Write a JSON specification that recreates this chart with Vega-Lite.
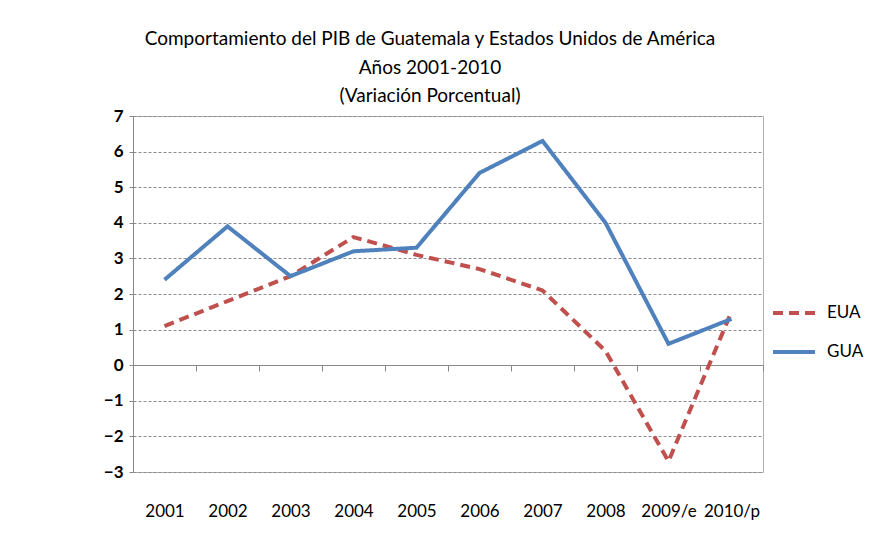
{
  "$schema": "https://vega.github.io/schema/vega-lite/v6.json",
  "autosize": {"type": "none"},
  "width": 630,
  "height": 356,
  "padding": {"left": 133, "top": 116, "right": 114, "bottom": 72},
  "background": "white",
  "title": {
    "text": ["Comportamiento del PIB de Guatemala y Estados Unidos de América", "Años 2001-2010", "(Variación Porcentual)"],
    "anchor": "middle",
    "dx": -18,
    "offset": 1,
    "font": "Lato",
    "fontSize": 19,
    "fontWeight": "normal",
    "lineHeight": 28.5,
    "color": "#000000"
  },
  "data": {
    "values": [
      {"year": "2001", "serie": "EUA", "valor": 1.1},
      {"year": "2002", "serie": "EUA", "valor": 1.8},
      {"year": "2003", "serie": "EUA", "valor": 2.5},
      {"year": "2004", "serie": "EUA", "valor": 3.6},
      {"year": "2005", "serie": "EUA", "valor": 3.1},
      {"year": "2006", "serie": "EUA", "valor": 2.7},
      {"year": "2007", "serie": "EUA", "valor": 2.1},
      {"year": "2008", "serie": "EUA", "valor": 0.4},
      {"year": "2009/e", "serie": "EUA", "valor": -2.7},
      {"year": "2010/p", "serie": "EUA", "valor": 1.5},
      {"year": "2001", "serie": "GUA", "valor": 2.4},
      {"year": "2002", "serie": "GUA", "valor": 3.9},
      {"year": "2003", "serie": "GUA", "valor": 2.5},
      {"year": "2004", "serie": "GUA", "valor": 3.2},
      {"year": "2005", "serie": "GUA", "valor": 3.3},
      {"year": "2006", "serie": "GUA", "valor": 5.4},
      {"year": "2007", "serie": "GUA", "valor": 6.3},
      {"year": "2008", "serie": "GUA", "valor": 4.0},
      {"year": "2009/e", "serie": "GUA", "valor": 0.6},
      {"year": "2010/p", "serie": "GUA", "valor": 1.3}
    ]
  },
  "mark": {"type": "line", "strokeWidth": 4},
  "encoding": {
    "x": {
      "field": "year",
      "type": "ordinal",
      "sort": null,
      "scale": {"paddingInner": 0, "paddingOuter": 0},
      "axis": {
        "title": null,
        "labelAngle": 0,
        "offset": -107,
        "labelPadding": 132,
        "labelFont": "Lato",
        "labelFontSize": 17,
        "labelColor": "#000000",
        "domain": true,
        "domainColor": "#888888",
        "domainWidth": 1,
        "ticks": true,
        "tickBand": "extent",
        "tickColor": "#888888",
        "tickSize": 6,
        "grid": false
      }
    },
    "y": {
      "field": "valor",
      "type": "quantitative",
      "scale": {"domain": [-3, 7], "nice": false, "zero": false},
      "axis": {
        "title": null,
        "values": [-3, -2, -1, 0, 1, 2, 3, 4, 5, 6, 7],
        "labelFont": "Lato",
        "labelFontSize": 17,
        "labelFontWeight": "bold",
        "labelColor": "#000000",
        "labelPadding": 6,
        "domain": true,
        "domainColor": "#888888",
        "ticks": true,
        "tickSize": 4,
        "tickColor": "#888888",
        "grid": true,
        "gridColor": "#8c8c8c",
        "gridDash": [3, 2],
        "gridWidth": 1
      }
    },
    "color": {
      "field": "serie",
      "type": "nominal",
      "scale": {"domain": ["EUA", "GUA"], "range": ["#C0504D", "#4F81BD"]},
      "legend": {
        "title": null,
        "orient": "none",
        "legendX": 638,
        "legendY": 174,
        "symbolType": "stroke",
        "symbolSize": 1764,
        "symbolStrokeWidth": 4,
        "labelFont": "Lato",
        "labelFontSize": 17,
        "labelColor": "#000000",
        "rowPadding": 8,
        "labelOffset": 10
      }
    },
    "strokeDash": {
      "field": "serie",
      "type": "nominal",
      "scale": {"domain": ["EUA", "GUA"], "range": [[10, 6], [1, 0]]},
      "legend": null
    }
  },
  "config": {
    "view": {"stroke": "#b0b0b0", "strokeWidth": 1}
  }
}
